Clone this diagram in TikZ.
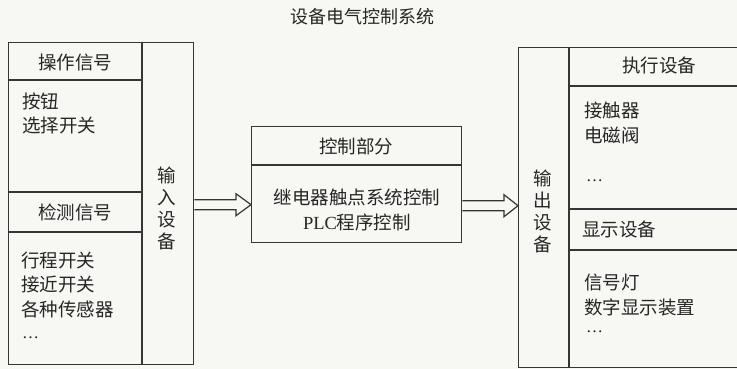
\documentclass[tikz,border=0pt]{standalone}
\usepackage{fontspec}
\setmainfont{Liberation Serif}
\newfontfamily\cjk{Noto Sans CJK SC}
\usetikzlibrary{calc}
\definecolor{linec}{HTML}{353535}
\definecolor{textc}{HTML}{262626}
\definecolor{bgc}{HTML}{F7F7F4}
\tikzset{
  box/.style={draw=linec, line width=1.4pt, inner sep=0pt, anchor=north west},
  divline/.style={draw=linec, line width=1.4pt},
  txt/.style={text=textc, font=\cjk\fontsize{18.5}{22}\selectfont, inner sep=0pt},
  ltxt/.style={txt, anchor=west},
  vtxt/.style={txt, align=center},
  titletxt/.style={txt, font=\cjk\fontsize{18}{20}\selectfont},
  hollow/.style={draw=linec, line width=1.2pt, line join=miter},
}
\begin{document}
\begin{tikzpicture}[x=1pt,y=-1pt]
\useasboundingbox (0,0) rectangle (737,369);
\fill[bgc] (0,0) rectangle (737,369);
\begin{scope}
\clip (0,0) rectangle (737,369);

% title
\node[titletxt] (title) at (362,17) {设备电气控制系统};

% input block
\node[box, minimum width=185pt, minimum height=322pt] (inbox) at (8,42) {};
\draw[divline] (142,42) -- (142,364);
\draw[divline] (8,80) -- (142,80);
\draw[divline] (8,192) -- (142,192);
\draw[divline] (8,232) -- (142,232);
\node[txt] (op) at (75,62) {操作信号};
\node[ltxt] (op1) at (22,101) {按钮};
\node[ltxt] (op2) at (22,126) {选择开关};
\node[txt] (det) at (75,212) {检测信号};
\node[ltxt] (d1) at (21,260) {行程开关};
\node[ltxt] (d2) at (21,285) {接近开关};
\node[ltxt] (d3) at (21,309) {各种传感器};
\node[ltxt, font=\fontsize{17}{20}\selectfont] (d4) at (22,338) {\ldots};
\node[vtxt] (indev) at (167,208) {输\\入\\设\\备};

% control block
\node[box, minimum width=210pt, minimum height=116pt] (ctrl) at (251,126) {};
\draw[divline] (251,165) -- (461,165);
\node[txt] (ctitle) at (356,146) {控制部分};
\node[txt] (c1) at (357,197) {继电器触点系统控制};
\node[txt] (c2) at (357,222) {{\rmfamily PLC}程序控制};

% output block
\node[box, minimum width=260pt, minimum height=320pt] (outbox) at (518,47) {};
\draw[divline] (569,47) -- (569,367);
\draw[divline] (569,86) -- (778,86);
\draw[divline] (569,209) -- (778,209);
\draw[divline] (569,250) -- (778,250);
\node[vtxt] (outdev) at (543,211) {输\\出\\设\\备};
\node[txt] (exec) at (659,65) {执行设备};
\node[ltxt] (e1) at (584,110) {接触器};
\node[ltxt] (e2) at (584,135) {电磁阀};
\node[ltxt, font=\fontsize{17}{20}\selectfont] (e3) at (586,181) {\ldots};
\node[ltxt] (disp) at (582,229) {显示设备};
\node[ltxt] (s1) at (584,282) {信号灯};
\node[ltxt] (s2) at (584,307) {数字显示装置};
\node[ltxt, font=\fontsize{17}{20}\selectfont] (s3) at (586,332) {\ldots};

% hollow arrows
\coordinate (a1s) at ($(inbox.east)+(0,1)$);
\coordinate (a1e) at (ctrl.west |- a1s);
\draw[hollow] ($(a1s)+(0,-5)$) -- ($(a1e)+(-15,-5)$) -- ($(a1e)+(-15,-11)$) -- (a1e)
  -- ($(a1e)+(-15,11)$) -- ($(a1e)+(-15,5)$) -- ($(a1s)+(0,5)$);
\coordinate (a2s) at ($(ctrl.east)+(0,21)$);
\coordinate (a2e) at (outbox.west |- a2s);
\draw[hollow] ($(a2s)+(0,-5)$) -- ($(a2e)+(-14,-5)$) -- ($(a2e)+(-14,-11)$) -- (a2e)
  -- ($(a2e)+(-14,11)$) -- ($(a2e)+(-14,5)$) -- ($(a2s)+(0,5)$);
\end{scope}
\end{tikzpicture}
\end{document}
